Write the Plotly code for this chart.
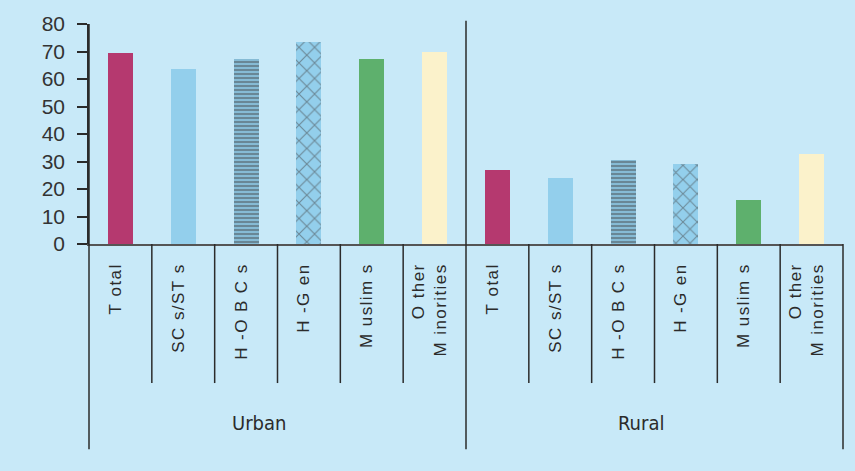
import plotly.graph_objects as go

# Share (%) by social group, urban vs rural
groups = ["Urban", "Rural"]
categories = ["T otal", "SC s/ST s", "H -O B C s", "H -G en", "M uslim s", "O ther<br>M inorities"]
urban_values = [69.3, 63.6, 67.1, 73.6, 67.1, 70.0]
rural_values = [27.0, 24.0, 30.5, 29.0, 16.1, 32.6]
y_ticks = [0, 10, 20, 30, 40, 50, 60, 70, 80]

# Styling per social group
bar_colors = ["#b5396f", "#93cfec", "#8ecbe8", "#93cfec", "#5eb06d", "#fbf2cb"]
pattern_shapes = ["", "", "-", "x", "", ""]
pattern_sizes_urban = [8, 8, 4, 11, 8, 8]
pattern_sizes_rural = [8, 8, 4, 10, 8, 8]
pattern_solidity = [0.3, 0.3, 0.62, 0.2, 0.3, 0.3]

BG = "#c8e9f8"
INK = "#2b2b2b"
HAIR = "\u200a"


def tracked(label):
    """Open up letter spacing with hair spaces, keeping line breaks intact."""
    lines = label.split("<br>")
    return "<br>".join(HAIR.join(line) for line in lines)


values = urban_values + rural_values
n = len(values)
xs = list(range(n))
ticktext = [tracked(c) for c in categories] * len(groups)

fig = go.Figure(
    go.Bar(
        x=xs,
        y=values,
        width=0.4,
        marker=dict(
            color=bar_colors * 2,
            line=dict(width=0),
            pattern=dict(
                shape=pattern_shapes * 2,
                size=pattern_sizes_urban + pattern_sizes_rural,
                solidity=pattern_solidity * 2,
                fgcolor="#2e3b47",
            ),
        ),
        hoverinfo="x+y",
    )
)

# Category separators below the axis, group separators spanning further down
shapes = []
per_group = len(categories)
for b in range(n + 1):
    xp = b / n
    if b % per_group == 0:
        top = 1.015 if b == per_group else (1.0 if b == 0 else 0.0)
        y0 = -0.933
    else:
        top = 0.0
        y0 = -0.632
    shapes.append(dict(type="line", xref="paper", yref="paper",
                       x0=xp, x1=xp, y0=y0, y1=top,
                       line=dict(color=INK, width=1.5)))

annotations = []
label_offsets = [-0.025, -0.018]
for gi, g in enumerate(groups):
    cx = (gi * per_group + per_group / 2) / n + label_offsets[gi]
    annotations.append(dict(text=g, xref="paper", yref="paper", x=cx, y=-0.812,
                            showarrow=False, xanchor="center", yanchor="middle",
                            font=dict(family="DejaVu Sans Condensed, Liberation Sans Narrow, sans-serif",
                                      size=20, color=INK)))

fig.update_layout(
    width=855,
    height=471,
    margin=dict(l=89, r=12, t=21, b=227),
    paper_bgcolor=BG,
    plot_bgcolor=BG,
    showlegend=False,
    shapes=shapes,
    annotations=annotations,
    bargap=0,
)

fig.update_xaxes(
    range=[-0.5, n - 0.5],
    tickvals=xs,
    ticktext=ticktext,
    tickangle=-90,
    ticks="",
    ticklabelstandoff=12,
    ticklabelshift=-5,
    tickfont=dict(family="Liberation Sans, Arial, sans-serif", size=17, color=INK),
    showline=True,
    linecolor="#555555",
    linewidth=2,
    showgrid=False,
    zeroline=False,
    fixedrange=True,
)

fig.update_yaxes(
    range=[0, 80],
    tickvals=y_ticks,
    ticks="outside",
    ticklen=10,
    tickwidth=1.5,
    tickcolor=INK,
    ticklabelstandoff=8,
    tickfont=dict(family="Liberation Sans, Arial, sans-serif", size=21, color="#333333"),
    showline=True,
    linecolor=INK,
    linewidth=1.5,
    showgrid=False,
    zeroline=False,
    fixedrange=True,
)

fig.write_html("out.html")
